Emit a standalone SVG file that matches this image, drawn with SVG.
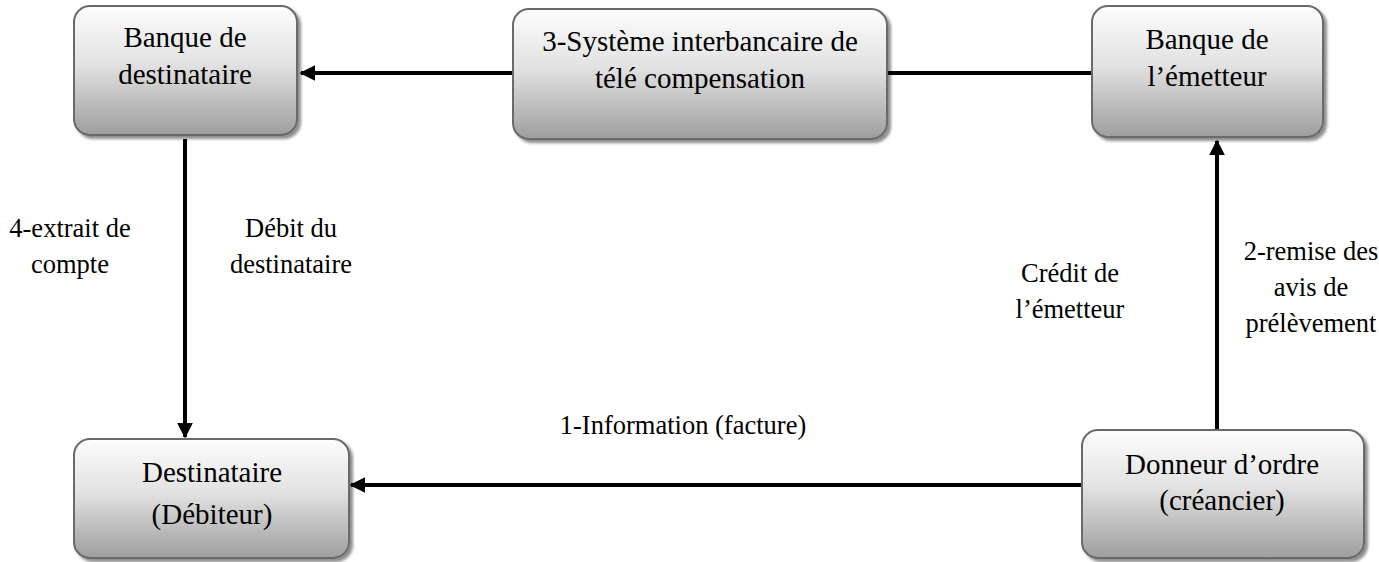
<svg xmlns="http://www.w3.org/2000/svg" width="1379" height="562" viewBox="0 0 1379 562">
<defs>
<linearGradient id="g" x1="0" y1="0" x2="0" y2="1">
<stop offset="0" stop-color="#fdfdfd"/>
<stop offset="0.45" stop-color="#e2e2e2"/>
<stop offset="1" stop-color="#9e9e9e"/>
</linearGradient>
<filter id="sh" x="-10%" y="-10%" width="130%" height="130%">
<feGaussianBlur in="SourceAlpha" stdDeviation="1.5"/>
<feOffset dx="3" dy="3" result="o"/>
<feComponentTransfer><feFuncA type="linear" slope="0.45"/></feComponentTransfer>
<feMerge><feMergeNode/><feMergeNode in="SourceGraphic"/></feMerge>
</filter>
<marker id="ah" markerWidth="4" markerHeight="4" refX="3.6" refY="2" orient="auto" markerUnits="strokeWidth">
<path d="M0,0 L4,2 L0,4 z" fill="#000"/>
</marker>
</defs>
<style>
.box{fill:url(#g);stroke:#6b6b6b;stroke-width:2;filter:url(#sh)}
text{font-family:'Liberation Serif','Times New Roman',serif;fill:#000;text-anchor:middle}
.t{font-size:29px}
.l{font-size:26.5px}
.c{stroke:#000;stroke-width:4;fill:none}
</style>
<g id="connectors">
<line class="c" x1="513" y1="73" x2="301" y2="73" marker-end="url(#ah)"/>
<line class="c" x1="887" y1="73" x2="1092" y2="73"/>
<line class="c" x1="185" y1="139" x2="185" y2="437" marker-end="url(#ah)"/>
<line class="c" x1="1217" y1="430" x2="1217" y2="141" marker-end="url(#ah)"/>
<line class="c" x1="1082" y1="485" x2="351" y2="485" marker-end="url(#ah)"/>
</g>
<g id="n1"><rect class="box" x="74" y="6" width="223" height="129" rx="16"/>
<text class="t" x="185" y="47">Banque de</text><text class="t" x="185" y="84">destinataire</text></g>
<g id="n2"><rect class="box" x="513" y="9" width="374" height="130" rx="16"/>
<text class="t" x="700" y="51">3-Système interbancaire de</text><text class="t" x="700" y="88">télé compensation</text></g>
<g id="n3"><rect class="box" x="1092" y="6" width="231" height="131" rx="16"/>
<text class="t" x="1207" y="49">Banque de</text><text class="t" x="1207" y="86">l’émetteur</text></g>
<g id="n4"><rect class="box" x="74" y="439" width="275" height="119" rx="16"/>
<text class="t" x="212" y="482">Destinataire</text><text class="t" x="212" y="524">(Débiteur)</text></g>
<g id="n5"><rect class="box" x="1082" y="430" width="282" height="128" rx="16"/>
<text class="t" x="1222" y="474">Donneur d’ordre</text><text class="t" x="1222" y="510">(créancier)</text></g>
<g id="labels">
<text class="l" x="70" y="237">4-extrait de</text><text class="l" x="70" y="273">compte</text>
<text class="l" x="291" y="237">Débit du</text><text class="l" x="291" y="273">destinataire</text>
<text class="l" x="1070" y="282">Crédit de</text><text class="l" x="1070" y="318">l’émetteur</text>
<text class="l" x="1311" y="260">2-remise des</text><text class="l" x="1311" y="296">avis de</text><text class="l" x="1311" y="332">prélèvement</text>
<text class="l" x="683" y="434">1-Information (facture)</text>
</g>
</svg>
